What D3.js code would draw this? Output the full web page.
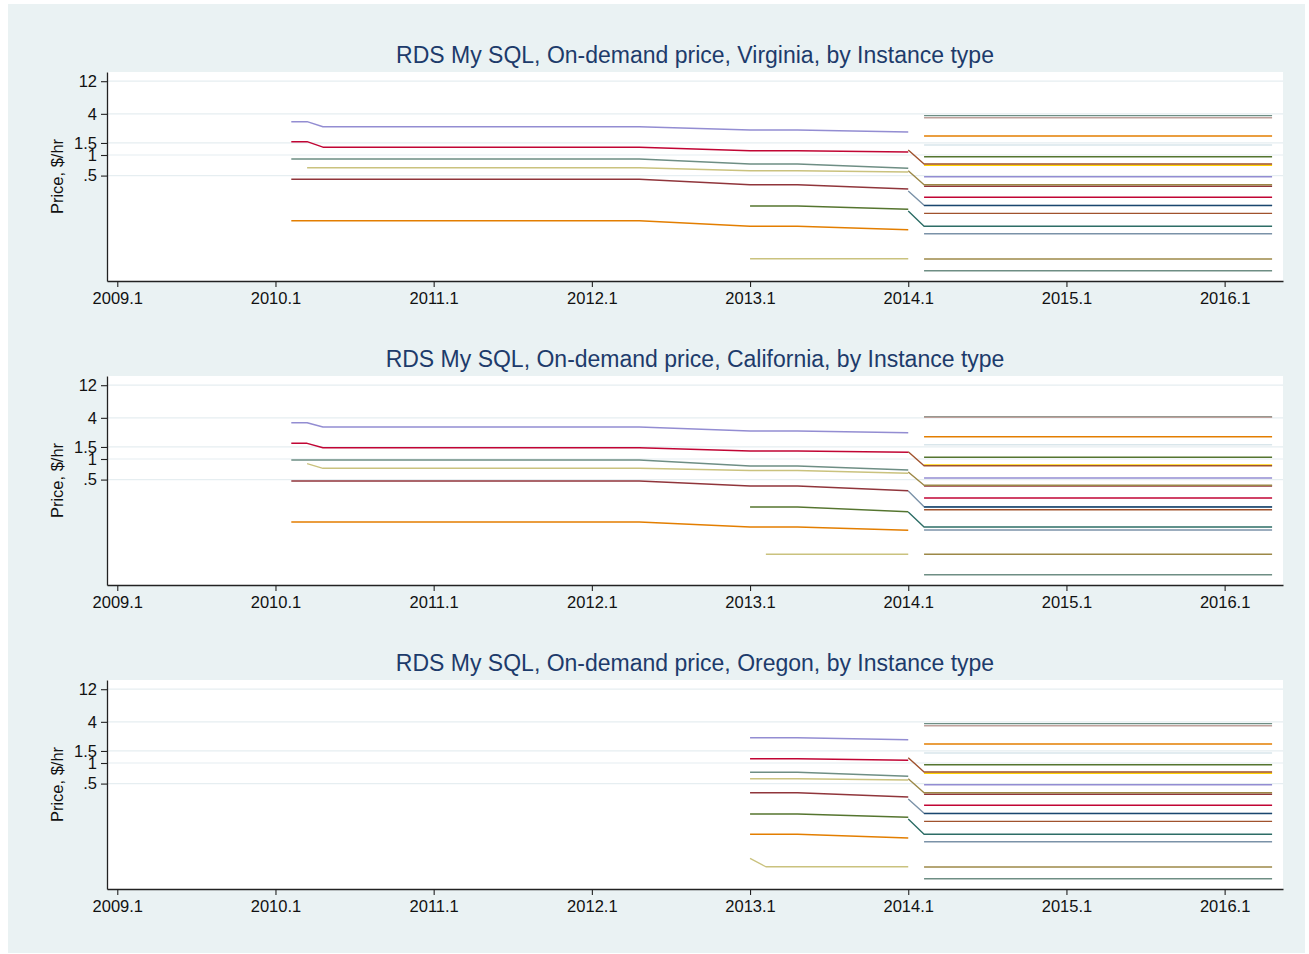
<!DOCTYPE html>
<html>
<head>
<meta charset="utf-8">
<script src="https://cdn.jsdelivr.net/npm/d3@7"></script>
<style>
  body { margin: 0; background: #fff; }
  svg { display: block; font-family: "Liberation Sans", Arial, Helvetica, sans-serif; }
</style>
</head>
<body>
<svg id="chart" width="1309" height="954"></svg>
<script>
// panels and axis ticks
const regions = ["Virginia", "California", "Oregon"];
const xTicks = [2009.1, 2010.1, 2011.1, 2012.1, 2013.1, 2014.1, 2015.1, 2016.1];
const yTicks = [12, 4, 1.5, 1, 0.5];

// previous generation instance types, points are [quarter, $/hr]
const oldTypes = ["db.m2.4xlarge", "db.m2.2xlarge", "db.m1.xlarge", "db.m2.xlarge",
                  "db.m1.large", "db.m1.small", "db.m1.medium", "db.t1.micro"];
const vaOld = [
  [[2010.2, 3.07], [2010.3, 3.07], [2010.4, 2.59], [2012.4, 2.59], [2013.1, 2.32], [2013.4, 2.32], [2014.1, 2.17]],
  [[2010.2, 1.565], [2010.3, 1.565], [2010.4, 1.30], [2012.4, 1.30], [2013.1, 1.156], [2013.4, 1.156], [2014.1, 1.106]],
  [[2010.2, 0.874], [2012.4, 0.874], [2013.1, 0.739], [2013.4, 0.739], [2014.1, 0.639]],
  [[2010.3, 0.652], [2012.4, 0.652], [2013.1, 0.589], [2013.4, 0.589], [2014.1, 0.564]],
  [[2010.2, 0.441], [2012.4, 0.441], [2013.1, 0.368], [2013.4, 0.368], [2014.1, 0.318]],
  [[2010.2, 0.1095], [2012.4, 0.1095], [2013.1, 0.0907], [2013.4, 0.0907], [2014.1, 0.0808]],
  [[2013.1, 0.1796], [2013.4, 0.1796], [2014.1, 0.1607]],
  [[2013.1, 0.0304], [2014.1, 0.0304]]
];
const caOld = [
  [[2010.2, 3.395], [2010.3, 3.395], [2010.4, 2.937], [2012.4, 2.937], [2013.1, 2.567], [2013.4, 2.567], [2014.1, 2.425]],
  [[2010.2, 1.696], [2010.3, 1.696], [2010.4, 1.463], [2012.4, 1.463], [2013.1, 1.309], [2013.4, 1.309], [2014.1, 1.253]],
  [[2010.2, 0.967], [2012.4, 0.967], [2013.1, 0.790], [2013.4, 0.790], [2014.1, 0.690]],
  [[2010.3, 0.854], [2010.4, 0.731], [2012.4, 0.731], [2013.1, 0.679], [2013.4, 0.679], [2014.1, 0.618]],
  [[2010.2, 0.477], [2012.4, 0.477], [2013.1, 0.403], [2013.4, 0.403], [2014.1, 0.344]],
  [[2010.2, 0.120], [2012.4, 0.120], [2013.1, 0.1013], [2013.4, 0.1013], [2014.1, 0.0907]],
  [[2013.1, 0.1987], [2013.4, 0.1987], [2014.1, 0.1696]],
  [[2013.2, 0.0404], [2014.1, 0.0404]]
];
const orOld = [
  [[2013.1, 2.344], [2013.4, 2.344], [2014.1, 2.191]],
  [[2013.1, 1.156], [2013.4, 1.156], [2014.1, 1.095]],
  [[2013.1, 0.731], [2013.4, 0.731], [2014.1, 0.639]],
  [[2013.1, 0.589], [2013.4, 0.589], [2014.1, 0.564]],
  [[2013.1, 0.368], [2013.4, 0.368], [2014.1, 0.318]],
  [[2013.1, 0.0907], [2013.4, 0.0907], [2014.1, 0.080]],
  [[2013.1, 0.1796], [2013.4, 0.1796], [2014.1, 0.1607]],
  [[2013.1, 0.0404], [2013.2, 0.0304], [2014.1, 0.0304]]
];

// types that have a 2014.1 price and then a new price from 2014.2 on
const bridgeTypes = ["db.m3.2xlarge", "db.m3.xlarge", "db.m3.large", "db.m3.medium"];
const vaBridge = [[1.183, 0.739], [0.589, 0.368], [0.298, 0.184], [0.152, 0.0907]];
const caBridge = [[1.279, 0.798], [0.646, 0.4125], [0.341, 0.2007], [0.168, 0.1013]];
const orBridge = [[1.195, 0.739], [0.589, 0.368], [0.298, 0.184], [0.152, 0.0907]];

// current generation, flat price 2014.2 - 2016.4
const newTypes = ["db.r3.8xlarge", "db.m4.10xlarge", "db.r3.4xlarge", "db.m4.4xlarge", "db.r3.2xlarge",
                  "db.m4.2xlarge", "db.r3.xlarge", "db.m4.xlarge", "db.r3.large", "db.m4.large",
                  "db.t2.large", "db.t2.medium", "db.t2.small", "db.t2.micro"];
const vaNew = [3.76, 3.51, 1.90, 1.40, 0.944, 0.707, 0.482, 0.349, 0.241, 0.182, 0.140, 0.0707, 0.0302, 0.0203];
const caNew = [4.155, 4.072, 2.119, 1.618, 1.059, 0.817, 0.527, 0.403, 0.269, 0.199, 0.1814, 0.0916, 0.0404, 0.0203];
const orNew = [3.76, 3.51, 1.90, 1.40, 0.944, 0.707, 0.482, 0.349, 0.241, 0.182, 0.140, 0.0707, 0.0302, 0.0203];
const newStart = 2014.2, newEnd = 2016.4;

// stata s2color palette
const pal = {
  navy: "#1a476f", maroon: "#90353b", forest: "#55752f", dkorange: "#e37e00",
  teal: "#6e8e84", cranberry: "#c10534", lavender: "#938dd2", khaki: "#cac27e",
  sienna: "#a0522d", emidblue: "#7b92a8", emerald: "#2d6d66", brown: "#9c8847",
  erose: "#bfa19c", gold: "#ffd200", bluishgray: "#d9e6eb"
};
const oldColors = [pal.lavender, pal.cranberry, pal.teal, pal.khaki, pal.maroon, pal.dkorange, pal.forest, pal.khaki];
const bridgeColors = [pal.sienna, pal.brown, pal.emidblue, pal.emerald];
const newColors = [pal.teal, pal.erose, pal.dkorange, pal.bluishgray, pal.forest, pal.gold, pal.lavender,
                   pal.maroon, pal.cranberry, pal.navy, pal.sienna, pal.emidblue, pal.brown, pal.teal];

const panels = [
  { old: vaOld, bridge: vaBridge, cur: vaNew },
  { old: caOld, bridge: caBridge, cur: caNew },
  { old: orOld, bridge: orBridge, cur: orNew }
];

const svg = d3.select("#chart");
const left = 107, right = 1283, plotH = 209, step = 304;

svg.append("rect")
  .attr("x", 8).attr("y", 4).attr("width", 1297).attr("height", 949)
  .attr("fill", "#eaf2f3");

const x = d3.scaleLinear().domain([2009.035, 2016.469]).range([left, right]);

panels.forEach((p, i) => {
  const top = 72 + i * step;
  const y = d3.scaleLog().domain([0.01437, 16.36]).range([top + plotH, top]);
  const g = svg.append("g");

  g.append("rect")
    .attr("x", left).attr("y", top).attr("width", right - left).attr("height", plotH)
    .attr("fill", "#fff");

  g.selectAll(".grid")
    .data(yTicks)
    .enter().append("line")
    .attr("x1", left).attr("x2", right)
    .attr("y1", d => y(d)).attr("y2", d => y(d))
    .attr("stroke", "#e6eef1").attr("stroke-width", 1.2);

  const line = d3.line().x(d => x(d[0])).y(d => y(d[1]));

  const series = [];
  p.cur.forEach((v, k) => series.push({ pts: [[newStart, v], [newEnd, v]], color: newColors[k] }));
  p.bridge.forEach((b, k) => series.push({ pts: [[2014.1, b[0]], [newStart, b[1]], [newEnd, b[1]]], color: bridgeColors[k] }));
  p.old.forEach((pts, k) => series.push({ pts: pts, color: oldColors[k] }));
  // navy drawn last so the two lines near .18 look like the original
  const navyIdx = series.findIndex(s => s.color === pal.navy);
  series.push(series.splice(navyIdx, 1)[0]);

  g.selectAll(".series")
    .data(series)
    .enter().append("path")
    .attr("d", d => line(d.pts))
    .attr("fill", "none")
    .attr("stroke", d => d.color)
    .attr("stroke-width", 1.4)
    .attr("stroke-linejoin", "round");

  const yAxis = g.append("g")
    .attr("transform", `translate(${left},0)`)
    .call(d3.axisLeft(y).tickValues(yTicks)
      .tickFormat(d => d === 0.5 ? ".5" : String(d))
      .tickSize(6).tickSizeOuter(0).tickPadding(4));

  const xAxis = g.append("g")
    .attr("transform", `translate(0,${top + plotH})`)
    .call(d3.axisBottom(x).tickValues(xTicks)
      .tickFormat(d3.format(".1f"))
      .tickSize(6).tickSizeOuter(0).tickPadding(5));

  [yAxis, xAxis].forEach(a => {
    a.attr("font-family", null).attr("font-size", 16.5);
    a.select(".domain").attr("stroke", "#222").attr("stroke-width", 1.3);
    a.selectAll(".tick line").attr("stroke", "#222").attr("stroke-width", 1.1);
    a.selectAll(".tick text").attr("fill", "#111");
  });

  g.append("text")
    .attr("transform", `translate(57,${top + plotH / 2}) rotate(-90)`)
    .attr("text-anchor", "middle")
    .attr("dy", "0.35em")
    .attr("font-size", 16.5)
    .attr("fill", "#111")
    .text("Price, $/hr");

  g.append("text")
    .attr("x", (left + right) / 2)
    .attr("y", top - 9)
    .attr("text-anchor", "middle")
    .attr("font-size", 23)
    .attr("fill", "#1d3b6b")
    .text(`RDS My SQL, On-demand price, ${regions[i]}, by Instance type`);
});
</script>
</body>
</html>
